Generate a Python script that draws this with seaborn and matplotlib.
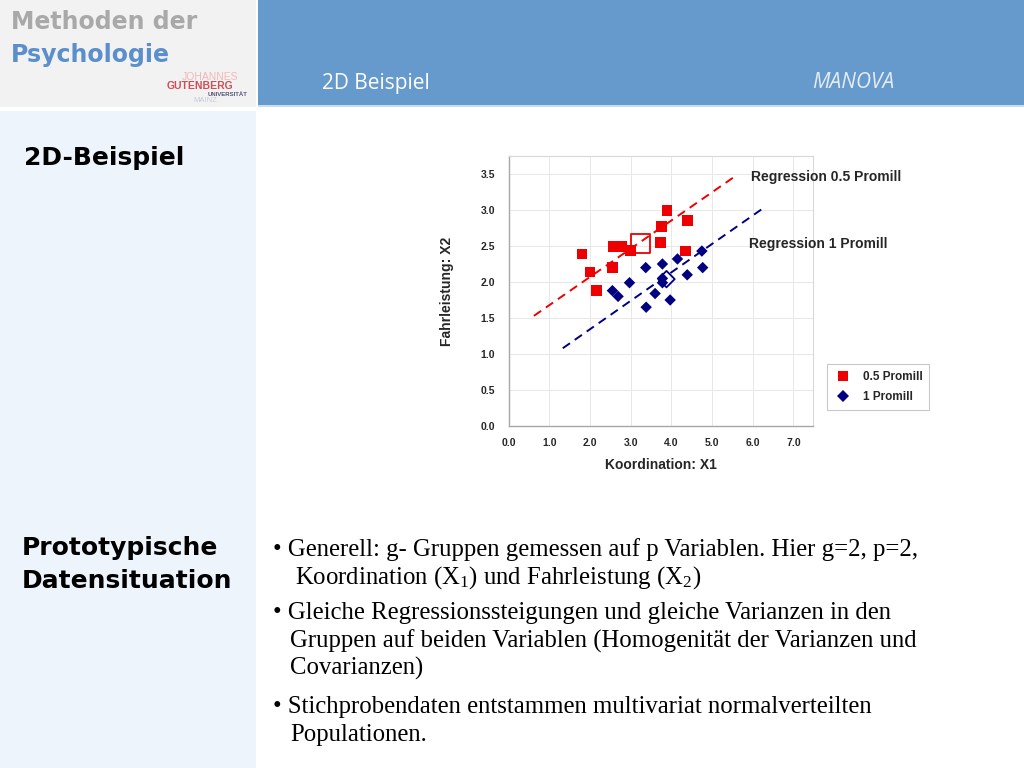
import matplotlib
matplotlib.use("Agg")
import matplotlib.pyplot as plt
import seaborn as sns
import pandas as pd
from matplotlib.patches import Rectangle

# ---------------- data ----------------
red_x = [1.80, 2.00, 2.15, 2.55, 2.57, 2.78, 3.00, 3.75, 3.89, 3.73, 4.39, 4.34]
red_y = [2.39, 2.14, 1.88, 2.20, 2.49, 2.49, 2.44, 2.77, 2.99, 2.55, 2.85, 2.43]
blue_x = [2.55, 2.69, 2.97, 3.37, 3.38, 3.60, 3.78, 3.78, 3.78, 3.97, 4.15, 4.39, 4.75, 4.77]
blue_y = [1.88, 1.80, 1.99, 2.20, 1.65, 1.84, 2.25, 2.05, 1.99, 1.75, 2.32, 2.10, 2.43, 2.20]
group_labels = ["0.5 Promill", "1 Promill"]
mean_x = [3.25, 3.88]
mean_y = [2.53, 2.04]
reg_red_x = [0.62, 5.52]
reg_red_y = [1.53, 3.45]
reg_blue_x = [1.33, 6.22]
reg_blue_y = [1.08, 3.01]
reg_labels = ["Regression 0.5 Promill", "Regression 1 Promill"]
x_ticks = [0.0, 1.0, 2.0, 3.0, 4.0, 5.0, 6.0, 7.0]
y_ticks = [0.0, 0.5, 1.0, 1.5, 2.0, 2.5, 3.0, 3.5]

RED = "#EE0000"
NAVY = "#000080"

sns.set_style("white")
plt.rcParams["font.family"] = ["Liberation Sans", "DejaVu Sans"]
plt.rcParams["mathtext.fontset"] = "custom"
plt.rcParams["mathtext.rm"] = "Liberation Serif"
plt.rcParams["mathtext.it"] = "Liberation Serif:italic"

fig = plt.figure(figsize=(10.24, 7.68), dpi=100)
W, H = 1024, 768

def px(x, y):
    return x / W, 1 - y / H

# ---------------- slide background ----------------
bg = fig.add_axes([0, 0, 1, 1], zorder=-10)
bg.set_xlim(0, W)
bg.set_ylim(H, 0)
bg.axis("off")
bg.add_patch(Rectangle((0, 0), 256, 107, color="#F2F2F2", lw=0))
bg.add_patch(Rectangle((258, 0), W - 258, 105, color="#6699CC", lw=0))
bg.add_patch(Rectangle((258, 105), W - 258, 2, color="#C9DDF0", lw=0))
bg.add_patch(Rectangle((0, 111), 256, H - 111, color="#EEF4FC", lw=0))

fig.text(*px(11, 22), "Methoden der", family="DejaVu Sans", weight="bold",
         fontsize=17, color="#A9A9A9", va="center", ha="left")
fig.text(*px(11, 55), "Psychologie", family="DejaVu Sans", weight="bold",
         fontsize=17, color="#5B8FCC", va="center", ha="left")
fig.text(*px(210, 77), "JOHANNES", fontsize=7.5, color="#F2B8B8", va="center", ha="center")
fig.text(*px(200, 86), "GUTENBERG", fontsize=7.5, weight="bold", color="#D24B57", va="center", ha="center")
fig.text(*px(228, 94.5), "UNIVERSITÄT", fontsize=4.3, weight="bold", color="#555577", va="center", ha="center")
fig.text(*px(205, 101), "MAINZ", fontsize=5.5, color="#C8CCD8", va="center", ha="center")

fig.text(*px(322, 83), "2D Beispiel", family="Open Sans", fontsize=15,
         color="white", va="center", ha="left")
fig.text(*px(894, 83), "MANOVA", family="Open Sans", style="italic", fontsize=15,
         color="#E4ECF5", va="center", ha="right")

fig.text(*px(24, 158), "2D-Beispiel", family="DejaVu Sans", weight="bold",
         fontsize=18, color="black", va="center", ha="left")
fig.text(*px(22, 548), "Prototypische", family="DejaVu Sans", weight="bold",
         fontsize=18, color="black", va="center", ha="left")
fig.text(*px(22, 581), "Datensituation", family="DejaVu Sans", weight="bold",
         fontsize=18, color="black", va="center", ha="left")

bullet_lines = [
    (273, 550, "• Generell: g- Gruppen gemessen auf p Variablen. Hier g=2, p=2,"),
    (295, 578, "Koordination (X$_1$) und Fahrleistung (X$_2$)"),
    (273, 613, "• Gleiche Regressionssteigungen und gleiche Varianzen in den"),
    (290, 641, "Gruppen auf beiden Variablen (Homogenität der Varianzen und"),
    (290, 668, "Covarianzen)"),
    (273, 707, "• Stichprobendaten entstammen multivariat normalverteilten"),
    (290, 735, "Populationen."),
]
for x, y, t in bullet_lines:
    fig.text(*px(x, y), t, family="Liberation Serif", fontsize=17.8,
             color="black", va="center", ha="left")

# ---------------- chart ----------------
ax = fig.add_axes([508.7 / W, 1 - 426 / H, 304.6 / W, 270 / H])

df = pd.DataFrame({
    "x": red_x + blue_x,
    "y": red_y + blue_y,
    "Gruppe": [group_labels[0]] * len(red_x) + [group_labels[1]] * len(blue_x),
})
sns.scatterplot(data=df, x="x", y="y", hue="Gruppe", style="Gruppe", size="Gruppe",
                palette={group_labels[0]: RED, group_labels[1]: NAVY},
                markers={group_labels[0]: "s", group_labels[1]: "D"},
                sizes={group_labels[0]: 60, group_labels[1]: 34},
                linewidth=0, ax=ax, zorder=3)

reg_df = pd.DataFrame({
    "x": reg_red_x + reg_blue_x,
    "y": reg_red_y + reg_blue_y,
    "line": [reg_labels[0]] * 2 + [reg_labels[1]] * 2,
})
sns.lineplot(data=reg_df, x="x", y="y", hue="line",
             palette={reg_labels[0]: RED, reg_labels[1]: NAVY},
             dashes=False, legend=False, ax=ax, lw=1.4, zorder=2)
for l in ax.get_lines():
    l.set_linestyle((0, (4.5, 3)))

# group means (open markers)
ax.scatter([mean_x[0]], [mean_y[0]], marker="s", s=190, facecolors="none",
           edgecolors=RED, linewidths=1.3, zorder=4)
ax.scatter([mean_x[1]], [mean_y[1]], marker="D", s=70, facecolors="none",
           edgecolors=NAVY, linewidths=1.3, zorder=4)

ax.text(5.96, 3.46, reg_labels[0], fontsize=10, weight="bold", va="center",
        ha="left", clip_on=False)
ax.text(5.91, 2.53, reg_labels[1], fontsize=10, weight="bold", va="center",
        ha="left", clip_on=False)

ax.set_xlim(0, 7.49)
ax.set_ylim(0, 3.75)
ax.set_xticks(x_ticks)
ax.set_yticks(y_ticks)
ax.set_xticklabels([f"{v:.1f}" for v in x_ticks], fontsize=7.5, weight="bold")
ax.set_yticklabels([f"{v:.1f}" for v in y_ticks], fontsize=7.5, weight="bold")
ax.tick_params(axis="x", length=0, pad=9)
ax.tick_params(axis="y", length=0, pad=10)
ax.grid(True, color="#E8E8E8", lw=0.7)
ax.set_axisbelow(True)
for side in ["left", "bottom"]:
    ax.spines[side].set_color("#A8A8A8")
    ax.spines[side].set_linewidth(1.0)
for side in ["top", "right"]:
    ax.spines[side].set_color("#D8D8D8")
    ax.spines[side].set_linewidth(0.8)
ax.set_xlabel("Koordination: X1", fontsize=10, weight="bold", labelpad=7)
ax.set_ylabel("Fahrleistung: X2", fontsize=10, weight="bold", labelpad=19)

sns.move_legend(ax, loc="upper left", bbox_to_anchor=(1.025, 0.25), title=None,
                frameon=True, fancybox=False, edgecolor="#BBBBBB",
                prop={"weight": "bold", "size": 8.5}, handletextpad=0.9,
                handlelength=1.6, borderpad=0.55, labelspacing=0.7)
leg = ax.get_legend()
leg.get_frame().set_linewidth(0.8)

fig.savefig("out.png", dpi=100)
